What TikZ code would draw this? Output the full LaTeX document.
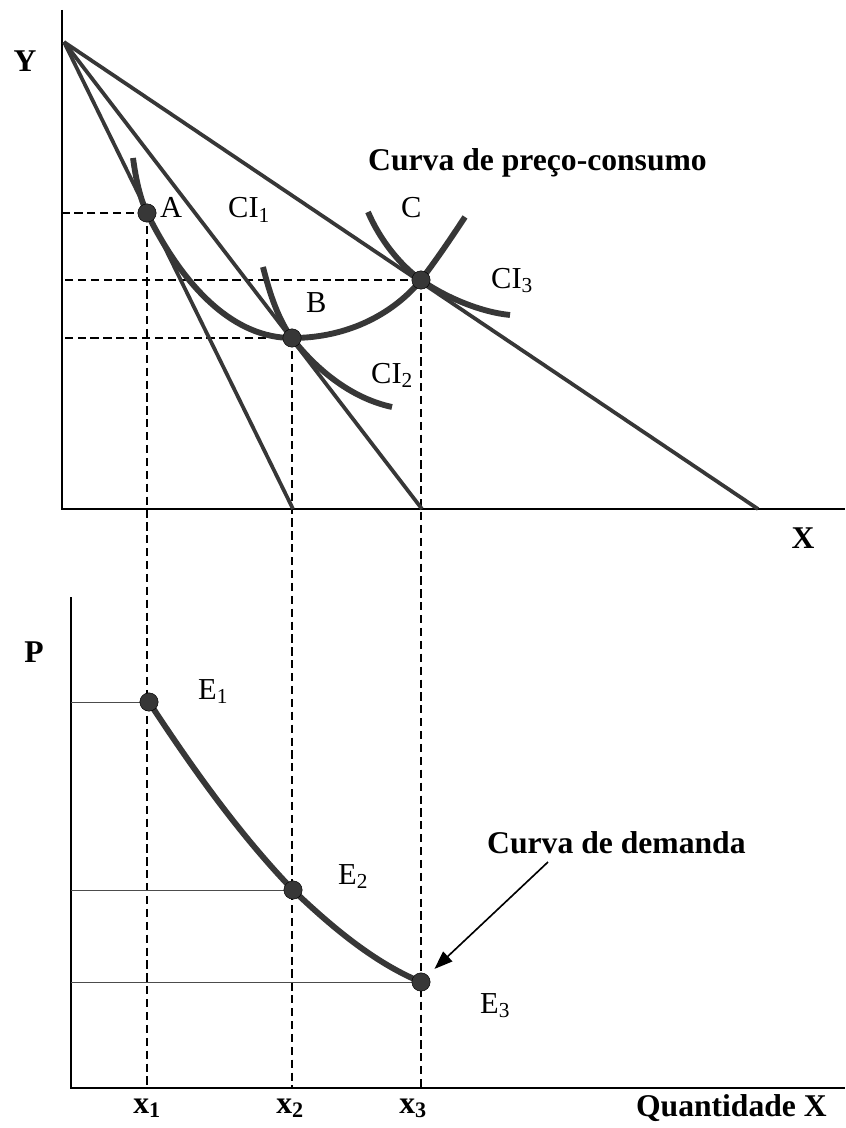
\documentclass[tikz,border=0pt]{standalone}
\usepackage{fontspec}
\setmainfont{Liberation Serif}
\usetikzlibrary{arrows.meta, positioning}
\definecolor{curvegray}{RGB}{55,55,55}
\tikzstyle{axisline} = [line width=1.8pt, black]
\tikzstyle{budget} = [line width=3.2pt, curvegray]
\tikzstyle{thickcurve} = [line width=5pt, curvegray]
\tikzstyle{guide} = [line width=1.3pt, dash pattern=on 7pt off 4pt]
\tikzstyle{thinguide} = [line width=0.7pt, gray!60!black]
\tikzstyle{dot} = [circle, fill=curvegray, draw=black, minimum size=0.55cm, inner sep=0pt]
\tikzstyle{lbl} = [inner sep=0pt, font=\fontsize{26}{30}\selectfont]
\tikzstyle{heading} = [inner sep=0pt, font=\fontsize{27}{30}\selectfont\bfseries]
\tikzstyle{arrow} = [line width=1.4pt, -{Triangle[length=0.55cm, width=0.4cm]}]

\begin{document}
\begin{tikzpicture}[x=0.03cm, y=-0.03cm]
\useasboundingbox (0,0) rectangle (845,1128);

% Eixos
\coordinate (ytop) at (62,10);
\coordinate (O1) at (62,509);
\coordinate (xend) at (845,509);
\coordinate (ptop) at (71,597);
\coordinate (O2) at (71,1088);
\coordinate (qend) at (845,1088);
\draw [axisline] (ytop) -- (O1) -- (xend);
\draw [axisline] (ptop) -- (O2) -- (qend);

% Pontos
\coordinate (pA) at (147,213);
\coordinate (pB) at (292,338);
\coordinate (pC) at (421,280);
\coordinate (pE1) at (149,702);
\coordinate (pE2) at (293,890);
\coordinate (pE3) at (421,982);

% Linhas tracejadas
\draw [guide] (pA) -- (pA -| O1);
\draw [guide] (pB) -- (pB -| O1);
\draw [guide] (pC) -- (pC -| O1);
\draw [guide] (pA) -- (pA |- O2);
\draw [guide] (pB) -- (pB |- O2);
\draw [guide] (pC) -- (pC |- O2);
\draw [thinguide] (pE1) -- (pE1 -| O2);
\draw [thinguide] (pE2) -- (pE2 -| O2);
\draw [thinguide] (pE3) -- (pE3 -| O2);

% Retas orcamentarias
\coordinate (R) at (64,42);
\draw [budget] (R) -- (293,509);
\draw [budget] (R) -- (422,509);
\draw [budget] (R) -- (758,509);

% Curvas de indiferenca e preco-consumo
\draw [thickcurve] (133,158) .. controls (136,180) and (140,198) .. (pA)
  .. controls (185,290) and (235,338) .. (pB)
  .. controls (350,338) and (395,312) .. (pC)
  .. controls (440,255) and (455,232) .. (465,217);
\draw [thickcurve] (263,267) .. controls (270,295) and (279,321) .. (pB)
  .. controls (315,368) and (350,398) .. (392,407);
\draw [thickcurve] (368,212) .. controls (380,240) and (400,265) .. (pC)
  .. controls (445,297) and (480,312) .. (510,315);

% Curva de demanda
\draw [thickcurve] (pE1) .. controls (200,780) and (245,840) .. (pE2)
  .. controls (340,935) and (380,965) .. (pE3);

\node (A) [dot] at (pA) {};
\node (B) [dot] at (pB) {};
\node (C) [dot] at (pC) {};
\node (E1) [dot] at (pE1) {};
\node (E2) [dot] at (pE2) {};
\node (E3) [dot] at (pE3) {};

% Rotulos
\node (labA) [lbl, anchor=base west] at (160,218) {A};
\node (labCI1) [lbl, anchor=base west] at (228,218) {CI\textsubscript{1}};
\node (labC) [lbl, anchor=base west] at (401,217) {C};
\node (labB) [lbl, anchor=base west] at (306,312) {B};
\node (labCI2) [lbl, anchor=base west] at (371,383) {CI\textsubscript{2}};
\node (labCI3) [lbl, anchor=base west] at (491,288) {CI\textsubscript{3}};
\node (labE1) [lbl, anchor=base west] at (198,699) {E\textsubscript{1}};
\node (labE2) [lbl, anchor=base west] at (338,884) {E\textsubscript{2}};
\node (labE3) [lbl, anchor=base west] at (480,1013) {E\textsubscript{3}};

\node (ylab) [heading] at (25,61) {Y};
\node (xlab) [heading] at (803,538) {X};
\node (plab) [heading] at (34,652) {P};
\node (pcc) [heading, anchor=base west] at (368,171) {Curva de preço-consumo};
\node (dem) [heading, anchor=base west] at (487,853) {Curva de demanda};
\node (qx) [heading, anchor=base east] at (827,1116) {Quantidade X};
\node (x1) [heading, anchor=base] at (147,1113) {x\textsubscript{1}};
\node (x2) [heading, anchor=base] at (290,1113) {x\textsubscript{2}};
\node (x3) [heading, anchor=base] at (413,1113) {x\textsubscript{3}};

\draw [arrow, shorten >=0.28cm] (dem.base west) ++(61,9) -- (E3.north east);

\end{tikzpicture}
\end{document}
